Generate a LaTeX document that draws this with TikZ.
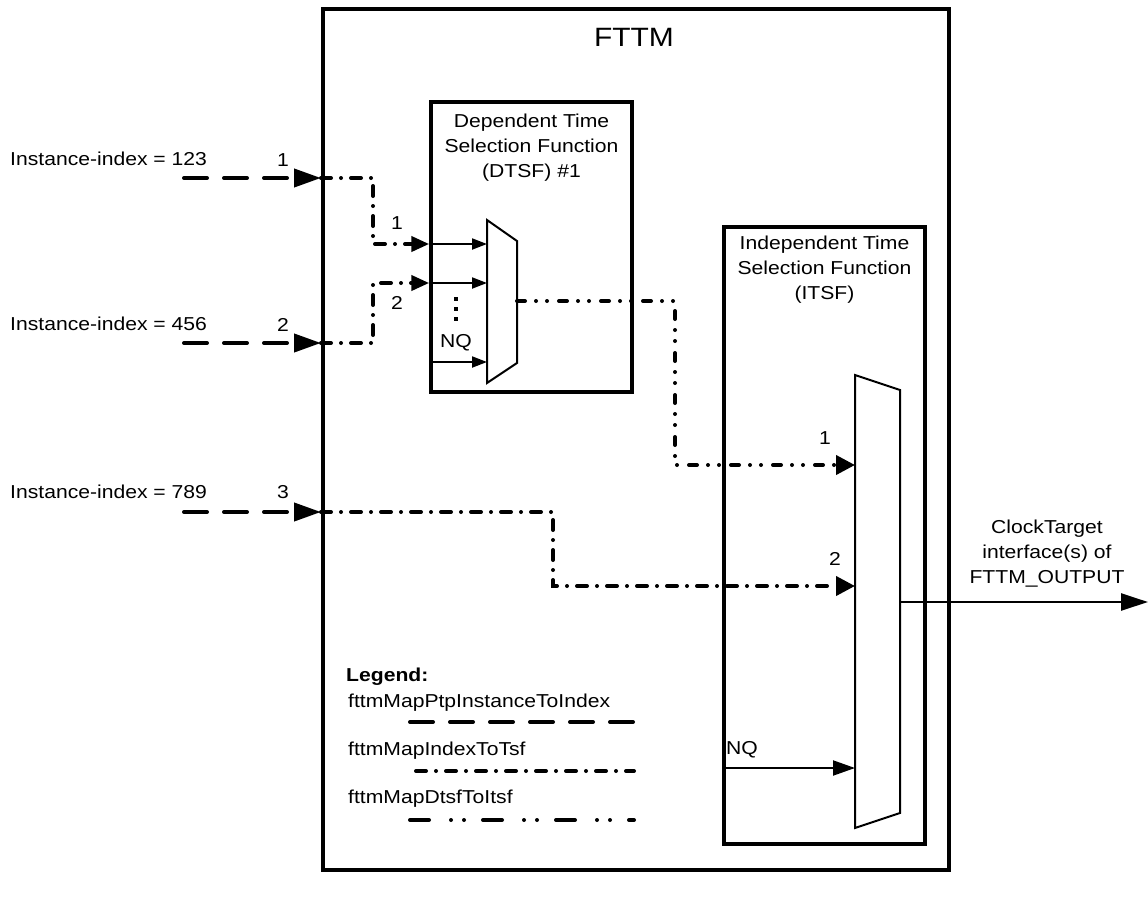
\documentclass[tikz,border=0pt]{standalone}
\usepackage{fontspec}
\setmainfont{Liberation Sans}[FakeStretch=1.13]
\usetikzlibrary{arrows.meta}
\begin{document}
\begin{tikzpicture}[x=1pt,y=-1pt,
  lbl/.style={font=\fontsize{18.7}{25}\selectfont, inner sep=0pt, align=center},
  box/.style={draw, line width=3.5pt, inner sep=0pt},
  mux/.style={draw, line width=2pt, line join=miter},
  ptp/.style={line width=4pt, line cap=round, dash pattern=on 23pt off 17pt},
  idx/.style={line width=4pt, line cap=round, dash pattern=on 10pt off 10pt on 0pt off 10pt},
  dts/.style={line width=4pt, line cap=round, dash pattern=on 8pt off 11pt on 0pt off 11pt on 0pt off 12pt},
  dtsleg/.style={line width=4pt, line cap=round, dash pattern=on 19pt off 22pt on 0pt off 13pt on 0pt off 19pt},
  bigtip/.style={-{Triangle[length=27pt,width=18pt]}},
  midtip/.style={-{Triangle[length=18pt,width=15pt]}},
  itip/.style={-{Triangle[length=19pt,width=19pt]}},
  thin/.style={line width=2pt, -{Triangle[length=15pt,width=11pt]}},
  nqtip/.style={line width=2pt, -{Triangle[length=22pt,width=15pt]}},
  outarrow/.style={line width=2.5pt, -{Triangle[length=27pt,width=17pt]}}
]
\useasboundingbox (0,0) rectangle (1148,897);

% boxes
\node[box, line width=4pt, minimum width=626pt, minimum height=861pt] (fttm) at (636,439.5) {};
\node[font=\fontsize{26.5}{30}\selectfont, inner sep=0pt] (title) at (634,37) {FTTM};
\node[box, minimum width=201pt, minimum height=290pt] (dtsf) at (531.5,247) {};
\node[lbl] (dtsftxt) at (531.5,148) {Dependent Time\\Selection Function\\(DTSF) \#1};
\node[box, minimum width=201pt, minimum height=617pt] (itsf) at (824.5,535.5) {};
\node[lbl] (itsftxt) at (824.5,270) {Independent Time\\Selection Function\\(ITSF)};

% multiplexers
\draw[mux] (487,220) -- (517,241) -- (517,363) -- (487,383) -- cycle;
\draw[mux] (855,375) -- (900,390) -- (900,813) -- (855,828) -- cycle;

% mux ports
\coordinate (d1) at (487,244);
\coordinate (d2) at (487,283);
\coordinate (dn) at (487,362);
\coordinate (m1out) at (517,301);
\coordinate (t1) at (855,465);
\coordinate (t2) at (855,586);
\coordinate (tn) at (855,768);
\coordinate (m2out) at (900,602);
\coordinate (outend) at (1148,602);

% inputs
\node[lbl, anchor=west] (in1txt) at (10,159) {Instance-index = 123};
\node[lbl, anchor=west] (in2txt) at (10,324) {Instance-index = 456};
\node[lbl, anchor=west] (in3txt) at (10,492) {Instance-index = 789};
\node[lbl] (n1) at (283,160) {1};
\node[lbl] (n2) at (283,325) {2};
\node[lbl] (n3) at (283,492) {3};
\coordinate (i1) at (184,178);
\coordinate (i2) at (184,343);
\coordinate (i3) at (184,512);
\coordinate (b1) at (373,178);
\coordinate (b2) at (373,343);
\coordinate (b3) at (553,512);
\coordinate (b4) at (675,301);

\draw[ptp, bigtip] (i1) -- (i1 -| fttm.west);
\draw[ptp, bigtip] (i2) -- (i2 -| fttm.west);
\draw[ptp, bigtip] (i3) -- (i3 -| fttm.west);

\draw[idx, midtip] (i1 -| fttm.west) -- (b1) |- (d1 -| dtsf.west);
\draw[idx, midtip] (i2 -| fttm.west) -- (b2) |- (d2 -| dtsf.west);
\draw[idx, itip] (i3 -| fttm.west) -- (b3) |- (t2);
\draw[dts, itip] (m1out) -- (b4) |- (t1);

\node[lbl] (k1) at (397,223) {1};
\node[lbl] (k2) at (397,303) {2};

% DTSF internal
\draw[thin] (d1 -| dtsf.west) -- (d1);
\draw[thin] (d2 -| dtsf.west) -- (d2);
\draw[thin] (dn -| dtsf.west) -- (dn);
\fill (454,297) rectangle (458,301);
\fill (454,307) rectangle (458,311);
\fill (454,317) rectangle (458,321);
\node[lbl] (nqd) at (456,343) {NQ};

% ITSF internal
\node[lbl] (j1) at (825,438) {1};
\node[lbl] (j2) at (835,559) {2};
\draw[nqtip] (tn -| itsf.west) -- (tn);
\node[lbl] (nqi) at (742,750) {NQ};

% output
\draw[outarrow] (m2out) -- (outend);
\node[lbl] (outtxt) at (1047,554) {ClockTarget\\interface(s) of\\FTTM\_OUTPUT};

% legend
\node[lbl, anchor=west, font=\fontsize{18.7}{25}\selectfont\bfseries] (leg) at (346,677) {Legend:};
\node[lbl, anchor=west] (l1) at (348,703) {fttmMapPtpInstanceToIndex};
\node[lbl, anchor=west] (l2) at (348,751) {fttmMapIndexToTsf};
\node[lbl, anchor=west] (l3) at (348,799) {fttmMapDtsfToItsf};
\coordinate (l1a) at (410,722); \coordinate (l1b) at (634,722);
\coordinate (l2a) at (416,771); \coordinate (l2b) at (634,771);
\coordinate (l3a) at (410,820); \coordinate (l3b) at (634,820);
\draw[ptp] (l1a) -- (l1b);
\draw[idx] (l2a) -- (l2b);
\draw[dtsleg] (l3a) -- (l3b);
\end{tikzpicture}
\end{document}
